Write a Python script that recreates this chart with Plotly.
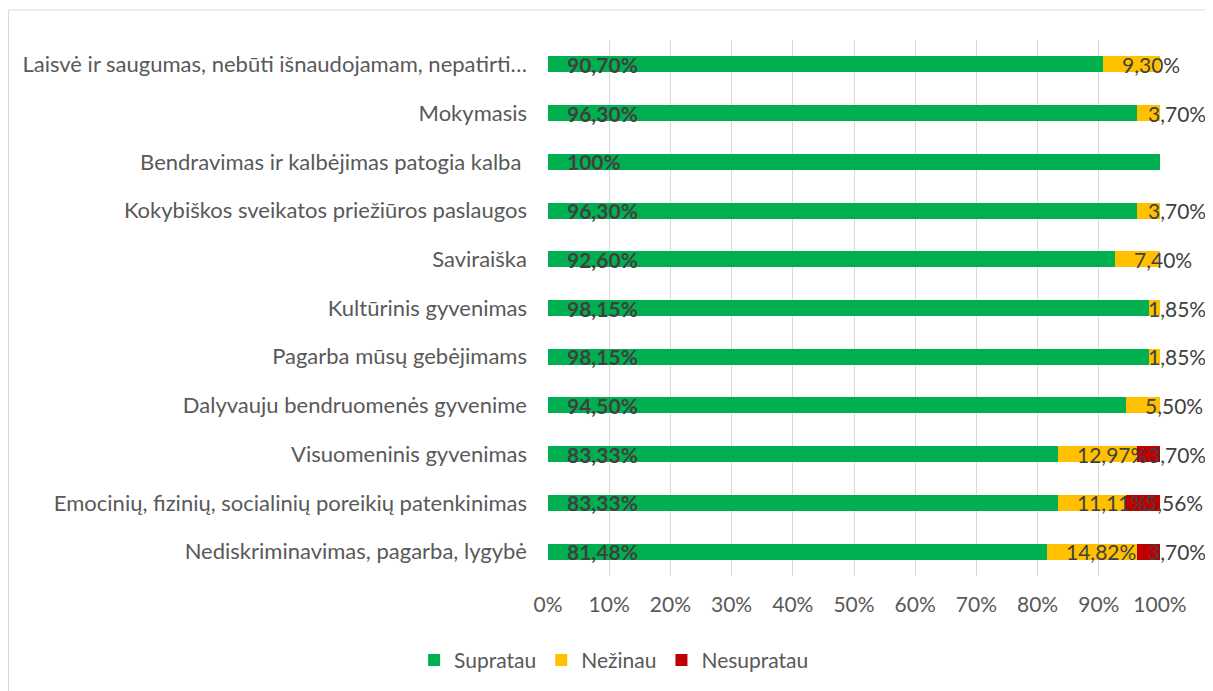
import plotly.graph_objects as go

categories = [
    "Laisvė ir saugumas, nebūti išnaudojamam, nepatirti…",
    "Mokymasis",
    "Bendravimas ir kalbėjimas patogia kalba ",
    "Kokybiškos sveikatos priežiūros paslaugos",
    "Saviraiška",
    "Kultūrinis gyvenimas",
    "Pagarba mūsų gebėjimams",
    "Dalyvauju bendruomenės gyvenime",
    "Visuomeninis gyvenimas",
    "Emocinių, fizinių, socialinių poreikių patenkinimas",
    "Nediskriminavimas, pagarba, lygybė",
]
supratau = [90.70, 96.30, 100.0, 96.30, 92.60, 98.15, 98.15, 94.50, 83.33, 83.33, 81.48]
nezinau = [9.30, 3.70, 0, 3.70, 7.40, 1.85, 1.85, 5.50, 12.97, 11.11, 14.82]
nesupratau = [0, 0, 0, 0, 0, 0, 0, 0, 3.70, 5.56, 3.70]
x_ticks = [0, 10, 20, 30, 40, 50, 60, 70, 80, 90, 100]

series = [
    ("Supratau", supratau, "#00B050", True),
    ("Nežinau", nezinau, "#FFC000", False),
    ("Nesupratau", nesupratau, "#C00000", False),
]

FONT = "Lato"
LABEL_COLOR = "#404040"
TICK_COLOR = "#595959"

FIG_W, FIG_H = 1205, 683
M_L, M_R, M_T, M_B = 540, 53, 32, 115
PLOT_W = FIG_W - M_L - M_R
PLOT_H = FIG_H - M_T - M_B
LABEL_PAD = 17          # px from segment start to label
LABEL_LIMIT = 1200      # px (figure coords) max right edge of labels
CHAR_W = 11.5           # approx px per label character


def fmt(v):
    if abs(v - 100) < 1e-9:
        return "100%"
    return f"{v:.2f}".replace(".", ",") + "%"


fig = go.Figure()
for name, vals, color, _ in series:
    fig.add_trace(go.Bar(
        name=name, y=categories, x=[v / 100 for v in vals], orientation="h",
        marker=dict(color=color, line=dict(width=0)), width=0.33,
        hoverinfo="x+y+name",
    ))

annotations = []
cum = [0.0] * len(categories)
for name, vals, color, bold in series:
    for i, v in enumerate(vals):
        if v > 0:
            txt = fmt(v)
            start_px = M_L + cum[i] / 100 * PLOT_W + LABEL_PAD
            font = dict(family=FONT, size=21, color=LABEL_COLOR,
                        weight="bold" if bold else "normal")
            if start_px + CHAR_W * len(txt) > LABEL_LIMIT:
                annotations.append(dict(
                    x=(LABEL_LIMIT - M_L) / PLOT_W, y=categories[i],
                    xref="paper", yref="y", text=txt, showarrow=False,
                    xanchor="right", yanchor="middle", font=font,
                ))
            else:
                annotations.append(dict(
                    x=cum[i] / 100, y=categories[i], xref="x", yref="y",
                    text=txt, showarrow=False, xanchor="left", yanchor="middle",
                    xshift=LABEL_PAD, font=font,
                ))
        cum[i] += v

fig.update_layout(
    barmode="stack",
    width=FIG_W, height=FIG_H,
    margin=dict(l=M_L, r=M_R, t=M_T, b=M_B),
    paper_bgcolor="white", plot_bgcolor="white",
    font=dict(family=FONT, size=21, color=TICK_COLOR),
    annotations=annotations,
    legend=dict(
        orientation="h", xref="container", yref="container",
        x=0.503, y=0.045, xanchor="center", yanchor="middle",
        font=dict(family=FONT, size=21, color=TICK_COLOR),
        traceorder="normal", itemwidth=30,
    ),
    shapes=[dict(
        type="rect", xref="paper", yref="paper",
        x0=(0.5 - M_L) / PLOT_W, x1=1.2,
        y0=-0.4, y1=(M_T + PLOT_H - 2) / PLOT_H,
        line=dict(color="#D9D9D9", width=1), fillcolor="rgba(0,0,0,0)", layer="below",
    )],
)
fig.update_xaxes(
    range=[0, 1], tickvals=[t / 100 for t in x_ticks],
    ticktext=[f"{t}%" for t in x_ticks],
    showgrid=True, gridcolor="#D9D9D9", gridwidth=1,
    zeroline=False, showline=False, ticks="",
    ticklabelstandoff=14,
    tickfont=dict(family=FONT, size=21, color=TICK_COLOR),
    fixedrange=True,
)
fig.update_yaxes(
    autorange="reversed", categoryorder="array", categoryarray=categories,
    showgrid=False, zeroline=False, showline=False, ticks="",
    ticklabelstandoff=20,
    tickfont=dict(family=FONT, size=22, color=TICK_COLOR),
    fixedrange=True,
)

fig.write_html("out.html")
